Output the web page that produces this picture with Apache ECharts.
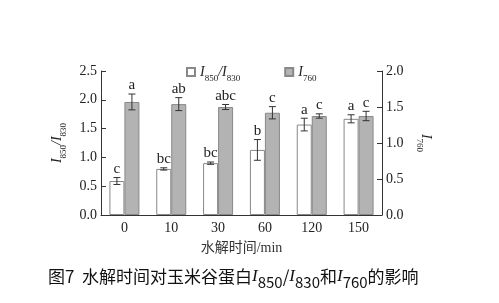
<!DOCTYPE html>
<html><head><meta charset="utf-8">
<script src="https://cdn.jsdelivr.net/npm/echarts@6/dist/echarts.min.js"></script>
<style>html,body{margin:0;padding:0;background:#fff}#c{width:499px;height:303px}</style>
</head><body><div id="c"></div>
<script>
const categories = ['0','10','30','60','120','150'];
const ratioValues = [0.59, 0.80, 0.90, 1.13, 1.57, 1.67];
const ratioErrors = [0.06, 0.02, 0.02, 0.18, 0.11, 0.07];
const ratioLetters = ['c','bc','bc','b','a','a'];
const i760Values = [1.57, 1.54, 1.50, 1.42, 1.375, 1.375];
const i760Errors = [0.11, 0.09, 0.035, 0.085, 0.03, 0.065];
const i760Letters = ['a','ab','abc','c','c','c'];
const leftTicks = {min:0, max:2.5, interval:0.5};
const rightTicks = {min:0, max:2.0, interval:0.5};

const BW = 15;
const serif = 'Liberation Serif, Times New Roman, serif';
const subRich = {
  i:{fontFamily:serif, fontStyle:'italic', fontSize:14, color:'#222', lineHeight:16, verticalAlign:'middle'},
  s:{fontFamily:serif, fontSize:9, color:'#222', lineHeight:16, verticalAlign:'bottom', padding:[0,0,-3,0]},
  n:{fontFamily:serif, fontStyle:'italic', fontSize:14, color:'#222', lineHeight:16}
};

function errSeries(side, yIdx, vals, errs, letters){
  return {
    type:'custom', yAxisIndex:yIdx, z:10, silent:true,
    data: vals.map((v,i)=>[i, v, errs[i], i]),
    renderItem:function(params, api){
      const i = api.value(0), v = api.value(1), e = api.value(2);
      const c = api.coord([i, v]);
      const x = c[0] + side*BW/2;
      const yt = api.coord([i, v+e])[1], yb = api.coord([i, v-e])[1];
      const st = {stroke:'#333', lineWidth:1};
      return {type:'group', children:[
        {type:'line', shape:{x1:x, y1:yt, x2:x, y2:yb}, style:st},
        {type:'line', shape:{x1:x-3.5, y1:yt, x2:x+3.5, y2:yt}, style:st},
        {type:'line', shape:{x1:x-3.5, y1:yb, x2:x+3.5, y2:yb}, style:st},
        {type:'text', style:{text:letters[api.value(3)], x:x, y:yt-1, align:'center', verticalAlign:'bottom', font:'15px '+serif, fill:'#222'}}
      ]};
    }
  };
}

const chart = echarts.init(document.getElementById('c'), null, {renderer:'canvas'});
chart.setOption({
  animation:false,
  backgroundColor:'#fff',
  grid:{left:101, right:117, top:71, bottom:88},
  legend:{
    top:60, left:181, itemGap:44, itemWidth:8, itemHeight:8, icon:'rect',
    data:['ratio','i760'],
    formatter:function(n){ return n==='ratio' ? '{i|I}{s|850}{n|/}{i|I}{s|830}' : '{i|I}{s|760}'; },
    textStyle:{rich:subRich}
  },
  xAxis:{
    type:'category', data:categories,
    axisLine:{lineStyle:{color:'#333', width:1}},
    axisTick:{inside:true, length:5, lineStyle:{color:'#333'}},
    axisLabel:{fontFamily:serif, fontSize:14, color:'#222', margin:6},
    name:'水解时间/min', nameLocation:'middle', nameGap:26,
    nameTextStyle:{fontFamily:serif+', Noto Sans CJK SC', fontSize:14, color:'#333'}
  },
  yAxis:[
    {type:'value', min:leftTicks.min, max:leftTicks.max, interval:leftTicks.interval,
     axisLine:{show:true, lineStyle:{color:'#333'}},
     axisTick:{show:true, inside:true, length:5, lineStyle:{color:'#333'}},
     splitLine:{show:false},
     axisLabel:{fontFamily:serif, fontSize:14, color:'#222', margin:4, formatter:v=>v.toFixed(1)},
     name:'{i|I}{s|850}{n|/}{i|I}{s|830}', nameLocation:'middle', nameGap:31, nameRotate:90,
     nameTextStyle:{rich:subRich}
    },
    {type:'value', min:rightTicks.min, max:rightTicks.max, interval:rightTicks.interval, position:'right',
     axisLine:{show:true, lineStyle:{color:'#333'}},
     axisTick:{show:true, inside:true, length:5, lineStyle:{color:'#333'}},
     splitLine:{show:false},
     axisLabel:{fontFamily:serif, fontSize:14, color:'#222', margin:4, formatter:v=>v.toFixed(1)},
     name:'{i|I}{s|760}', nameLocation:'middle', nameGap:31, nameRotate:-90,
     nameTextStyle:{rich:subRich}
    }
  ],
  series:[
    {name:'ratio', type:'bar', yAxisIndex:0, data:ratioValues, barWidth:BW, barGap:'0%',
     itemStyle:{color:'#fff', borderColor:'#888', borderWidth:1}},
    {name:'i760', type:'bar', yAxisIndex:1, data:i760Values, barWidth:BW, barGap:'0%',
     itemStyle:{color:'#b3b3b3', borderColor:'#888', borderWidth:1}},
    errSeries(-1, 0, ratioValues, ratioErrors, ratioLetters),
    errSeries(1, 1, i760Values, i760Errors, i760Letters)
  ],
  graphic:[{
    type:'text', left:48, top:268,
    style:{
      text:'{c|图7  水解时间对玉米谷蛋白}{i|I}{b|850}{c|/}{i|I}{b|830}{c|和}{i|I}{b|760}{c|的影响}',
      rich:{
        c:{fontFamily:'Noto Sans CJK SC', fontSize:17, fill:'#111', lineHeight:20, verticalAlign:'middle'},
        i:{fontFamily:serif, fontStyle:'italic', fontSize:17, fill:'#111', lineHeight:20, verticalAlign:'middle'},
        b:{fontFamily:'Noto Sans CJK SC', fontSize:15, fill:'#111', lineHeight:20, verticalAlign:'bottom', padding:[0,0,-3,0]}
      }
    }
  }]
});
</script></body></html>
